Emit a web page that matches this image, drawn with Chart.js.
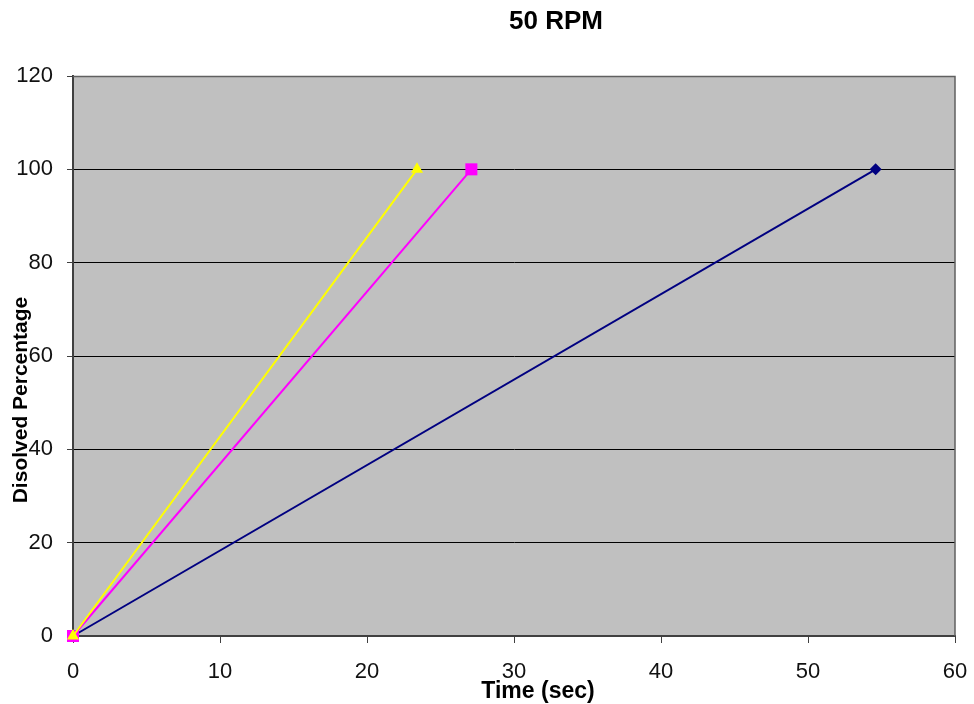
<!DOCTYPE html>
<html>
<head>
<meta charset="utf-8">
<script src="https://cdn.jsdelivr.net/npm/chart.js@4.4.1/dist/chart.umd.min.js"></script>
<style>
  html, body { margin: 0; padding: 0; background: #ffffff; }
  #wrap { width: 974px; height: 704px; }
</style>
</head>
<body>
<div id="wrap"><canvas id="c" width="974" height="704"></canvas></div>
<script>
// Dissolution at 50 RPM: time (sec) to reach each percentage
const chartTitle = '50 RPM';
const xTitle = 'Time (sec)';
const yTitle = 'Disolved Percentage';

const seriesNames = ['Sample 1', 'Sample 2', 'Sample 3'];
const series1Time = [0, 54.6];
const series1Pct  = [0, 100];
const series2Time = [0, 27.1];
const series2Pct  = [0, 100];
const series3Time = [0, 23.4];
const series3Pct  = [0, 100];

const xTicks = [0, 10, 20, 30, 40, 50, 60];
const yTicks = [0, 20, 40, 60, 80, 100, 120];

const FONT = "'Liberation Sans', Arial, sans-serif";

function toPoints(xs, ys) {
  return xs.map((x, i) => ({ x: x, y: ys[i] }));
}

// Grey plot area plus a thin frame on its top and right sides
const plotBackground = {
  id: 'plotBackground',
  beforeDraw(chart) {
    const { ctx, chartArea: a } = chart;
    ctx.save();
    ctx.fillStyle = '#c0c0c0';
    ctx.fillRect(a.left, a.top, a.right - a.left, a.bottom - a.top);
    ctx.restore();
  },
  afterDraw(chart) {
    const { ctx, chartArea: a } = chart;
    ctx.save();
    ctx.strokeStyle = '#606060';
    ctx.lineWidth = 1.5;
    ctx.beginPath();
    ctx.moveTo(a.left, a.top + 0.5);
    ctx.lineTo(a.right, a.top + 0.5);
    ctx.lineTo(a.right, a.bottom);
    ctx.stroke();
    ctx.restore();
  }
};

// Chart title and axis titles
const titles = {
  id: 'titles',
  afterDraw(chart) {
    const ctx = chart.ctx;
    ctx.save();
    ctx.fillStyle = '#000000';
    ctx.textAlign = 'center';
    ctx.textBaseline = 'middle';
    ctx.font = 'bold 26px ' + FONT;
    ctx.fillText(chartTitle, 556, 22);
    ctx.font = 'bold 23px ' + FONT;
    ctx.fillText(xTitle, 538, 692);
    ctx.translate(21, 400);
    ctx.rotate(-Math.PI / 2);
    ctx.font = 'bold 21px ' + FONT;
    ctx.fillText(yTitle, 0, 0);
    ctx.restore();
  }
};

new Chart(document.getElementById('c'), {
  type: 'line',
  data: {
    datasets: [
      {
        label: seriesNames[0],
        data: toPoints(series1Time, series1Pct),
        borderColor: '#000080',
        backgroundColor: '#000080',
        borderWidth: 2,
        pointStyle: 'rectRot',
        pointRadius: 6,
        pointBorderWidth: 0,
        clip: false,
        order: 3
      },
      {
        label: seriesNames[1],
        data: toPoints(series2Time, series2Pct),
        borderColor: '#ff00ff',
        backgroundColor: '#ff00ff',
        borderWidth: 2,
        pointStyle: 'rect',
        pointRadius: 8.5,
        pointBorderWidth: 0,
        clip: false,
        order: 2
      },
      {
        label: seriesNames[2],
        data: toPoints(series3Time, series3Pct),
        borderColor: '#ffff00',
        backgroundColor: '#ffff00',
        borderWidth: 2,
        pointStyle: 'triangle',
        pointRadius: 7,
        pointBorderWidth: 0,
        clip: false,
        order: 1
      }
    ]
  },
  options: {
    responsive: false,
    animation: false,
    devicePixelRatio: 1,
    layout: { padding: { top: 76, left: 0, right: 0, bottom: 0 } },
    plugins: {
      legend: { display: false },
      title: { display: false },
      tooltip: { enabled: false }
    },
    elements: { line: { tension: 0 } },
    scales: {
      x: {
        type: 'linear',
        min: 0,
        max: 60,
        afterFit(s) { s.height = 68; s.paddingRight = 19; },
        afterBuildTicks(s) { s.ticks = xTicks.map(v => ({ value: v })); },
        grid: {
          drawOnChartArea: false,
          drawTicks: true,
          tickLength: 7,
          color: '#404040',
          lineWidth: 1
        },
        border: { display: true, color: '#404040', width: 2 },
        ticks: {
          color: '#111111',
          padding: 16,
          maxRotation: 0,
          font: { family: FONT, size: 22 }
        }
      },
      y: {
        type: 'linear',
        min: 0,
        max: 120,
        afterFit(s) { s.width = 73; },
        afterBuildTicks(s) { s.ticks = yTicks.map(v => ({ value: v })); },
        grid: {
          drawOnChartArea: true,
          drawTicks: true,
          tickLength: 6,
          color: '#000000',
          tickColor: '#404040',
          lineWidth: 1
        },
        border: { display: true, color: '#404040', width: 2 },
        ticks: {
          color: '#111111',
          padding: 14,
          font: { family: FONT, size: 22 }
        }
      }
    }
  },
  plugins: [plotBackground, titles]
});
</script>
</body>
</html>
